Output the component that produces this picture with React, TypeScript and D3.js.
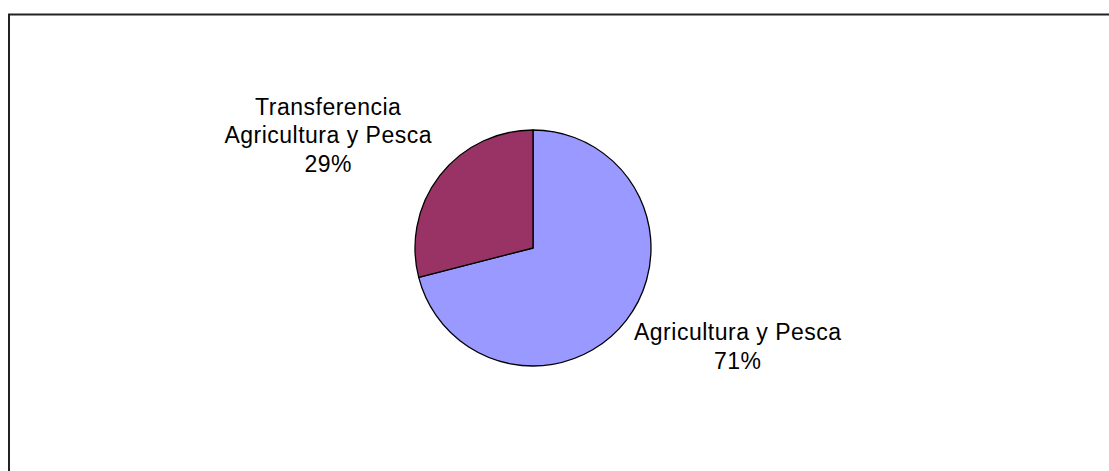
import React, { useEffect, useRef } from 'react';
import * as d3 from 'd3';

const categories = ['Agricultura y Pesca', 'Transferencia Agricultura y Pesca'];
const values = [71, 29];
const colors = ['#9999FF', '#993366'];
// label lines as shown beside each slice
const labelLines = [
  ['Agricultura y Pesca', '71%'],
  ['Transferencia', 'Agricultura y Pesca', '29%'],
];

const W = 1109;
const H = 471;

const App = () => {
  const ref = useRef(null);

  useEffect(() => {
    const svg = d3.select(ref.current);
    svg.selectAll('*').remove();

    // chart frame
    svg.append('rect')
      .attr('x', 9)
      .attr('y', 14.5)
      .attr('width', W + 20)
      .attr('height', H + 20)
      .attr('fill', '#fff')
      .attr('stroke', '#222')
      .attr('stroke-width', 2);

    const cx = 533;
    const cy = 248;
    const r = 118;

    const pie = d3.pie<number>().sort(null).value(d => d);
    const arcs = pie(values);
    const arc = d3.arc<d3.PieArcDatum<number>>().innerRadius(0).outerRadius(r);
    const labelArc = d3.arc<d3.PieArcDatum<number>>().innerRadius(r + 6).outerRadius(r + 6);

    const g = svg.append('g').attr('transform', `translate(${cx},${cy})`);

    g.selectAll('path.slice')
      .data(arcs)
      .enter().append('path')
      .attr('class', 'slice')
      .attr('d', arc)
      .attr('fill', (d, i) => colors[i])
      .attr('stroke', '#000')
      .attr('stroke-width', 1.3)
      .attr('stroke-linejoin', 'round');

    const fontSize = 23;
    const lineH = 28.5;
    const pad = 5;
    const hpad = 3;

    arcs.forEach((d, i) => {
      const [ax, ay] = labelArc.centroid(d);
      const lines = labelLines[i];
      const t = g.append('text')
        .attr('font-family', '"Liberation Sans", Arial, sans-serif')
        .attr('font-size', fontSize)
        .attr('letter-spacing', 0.5)
        .attr('fill', '#000')
        .attr('text-anchor', 'middle');
      lines.forEach((l, j) => {
        t.append('tspan').attr('x', 0).attr('y', j * lineH).text(l);
      });
      const bb = (t.node() as SVGTextElement).getBBox();
      // put the box corner nearest the pie on the ray through the slice middle
      const tx = ax >= 0 ? ax - bb.x + hpad : ax - (bb.x + bb.width) - hpad;
      const ty = ay >= 0 ? ay - (bb.y + pad) : ay - (bb.y + bb.height - pad);
      t.attr('transform', `translate(${tx},${ty})`);
    });
  }, []);

  return (
    <svg ref={ref} width={W} height={H}
      style={{ position: 'absolute', left: 0, top: 0, background: '#fff' }} />
  );
};

export default App;
